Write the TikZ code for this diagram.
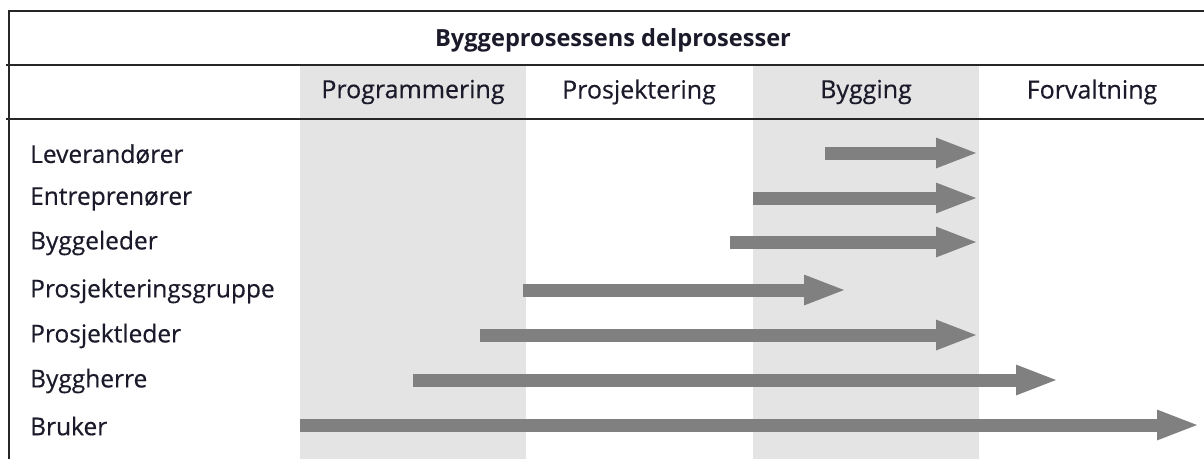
\documentclass[tikz,border=0pt]{standalone}
\usepackage{fontspec}
\setmainfont{Open Sans}
\newfontfamily\labelfont{Open Sans}[FakeBold=0.45]
\usetikzlibrary{arrows.meta}
\definecolor{phaseshade}{HTML}{E4E4E4}
\definecolor{barfill}{HTML}{808080}
\definecolor{ink}{HTML}{1A1A2A}
\begin{document}
\begin{tikzpicture}[x=1pt,y=-1pt,
  rule/.style={line width=1.4pt,black!85},
  rowlabel/.style={anchor=west,inner sep=0pt,text=ink,font=\labelfont\fontsize{24.5}{28}\selectfont},
  phaselabel/.style={inner sep=0pt,text=ink,font=\labelfont\fontsize{25}{28}\selectfont},
  span/.style={line width=13pt,barfill,line cap=butt,
    -{Triangle[length=43pt,width=27pt]}}]
\useasboundingbox (0,0) rectangle (1204,459);
% shaded phases
\fill[phaseshade] (300,65) rectangle (526,459);
\fill[phaseshade] (753,65) rectangle (979,459);
% table rules
\draw[rule] (9,459) -- (9,11) -- (1204,11);
\draw[rule] (6,65) -- (1204,65);
\draw[rule] (6,119) -- (1204,119);
% headings
\node[font=\bfseries\fontsize{23.6}{27}\selectfont,text=ink,inner sep=0pt] (title) at (613,40) {Byggeprosessens delprosesser};
\node[phaselabel] (p1) at (413,92) {Programmering};
\node[phaselabel] (p2) at (639,92) {Prosjektering};
\node[phaselabel] (p3) at (866,92) {Bygging};
\node[phaselabel] (p4) at (1092,92) {Forvaltning};
% actors
\node[rowlabel] (r1) at (30,154) {Leverandører};
\node[rowlabel] (r2) at (30,199) {Entreprenører};
\node[rowlabel] (r3) at (30,243) {Byggeleder};
\node[rowlabel] (r4) at (30,291) {Prosjekteringsgruppe};
\node[rowlabel] (r5) at (30,336) {Prosjektleder};
\node[rowlabel] (r6) at (30,381) {Byggherre};
\node[rowlabel] (r7) at (30,426) {Bruker};
% participation spans
\coordinate (s1) at (825,153); \coordinate (e1) at (979,153);
\coordinate (s2) at (753,198); \coordinate (e2) at (979,198);
\coordinate (s3) at (730,242); \coordinate (e3) at (979,242);
\coordinate (s4) at (523,290); \coordinate (e4) at (847,290);
\coordinate (s5) at (480,335); \coordinate (e5) at (979,335);
\coordinate (s6) at (413,380); \coordinate (e6) at (1059,380);
\coordinate (s7) at (300,425); \coordinate (e7) at (1200,425);
\foreach \i in {1,...,7} \draw[span] (s\i) -- (e\i);
\end{tikzpicture}
\end{document}
